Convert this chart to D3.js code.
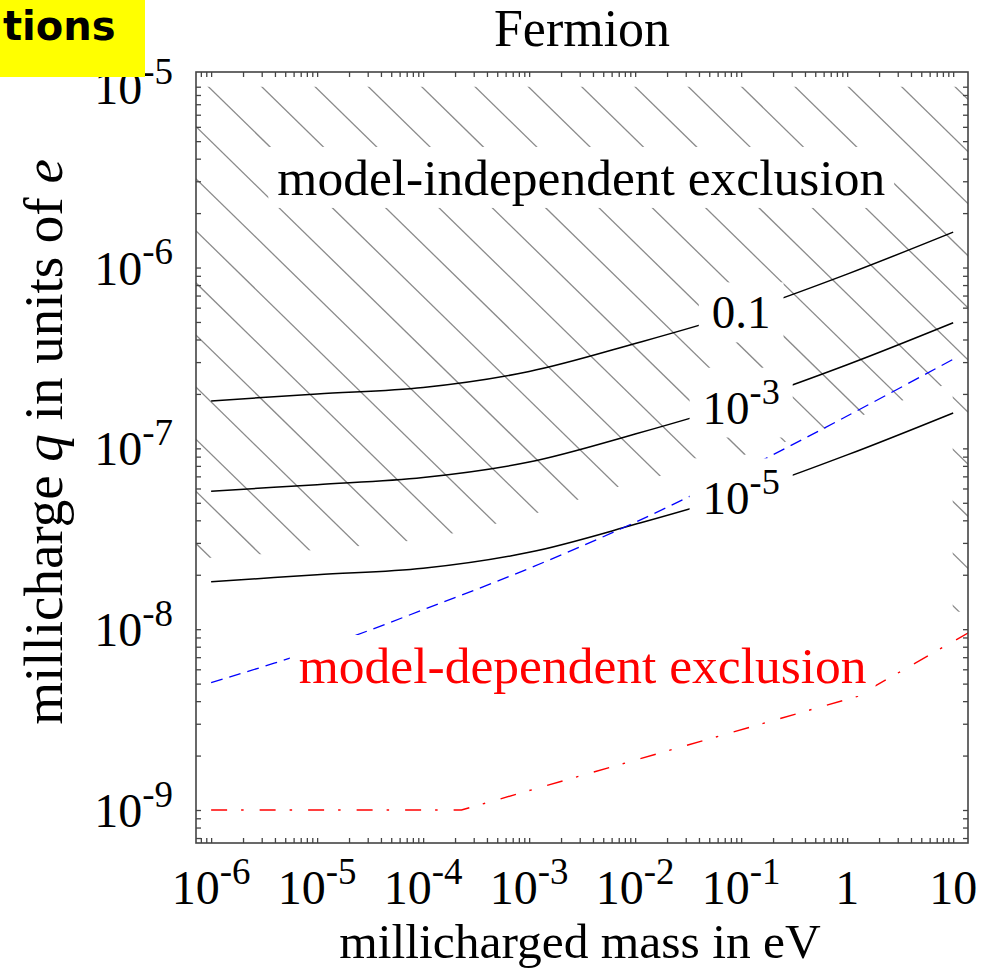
<!DOCTYPE html>
<html><head><meta charset="utf-8">
<script src="https://cdn.jsdelivr.net/npm/d3@7"></script>
<style>
body{margin:0;background:#fff;}
svg{display:block;}
</style></head><body>
<svg id="chart" width="996" height="975"></svg>
<script>
// ---- data (mass in eV, charge in units of e) ----
const massGrid  = [1e-6, 1e-5, 1e-4, 1e-3, 1e-2, 1e-1, 1, 10];
const qCurve01  = [1.83e-7, 2.0e-7, 2.17e-7, 2.66e-7, 3.8e-7, 5.65e-7, 9.2e-7, 1.57e-6];
const qCurve1e3 = [5.8e-8, 6.3e-8, 6.9e-8, 8.4e-8, 1.2e-7, 1.79e-7, 2.9e-7, 4.95e-7];
const qCurve1e5 = [1.83e-8, 2.0e-8, 2.17e-8, 2.66e-8, 3.8e-8, 5.65e-8, 9.2e-8, 1.57e-7];
const curveLabels = [["0.1", ""], ["10", "-3"], ["10", "-5"]];
const labelMass = 0.1;

// blue dashed bound
const blueMass = [1e-6, 1e-5, 1e-4, 1e-3, 1e-2, 1e-1, 1, 10];
const blueQ    = [5.06e-9, 7.75e-9, 1.28e-8, 2.17e-8, 3.9e-8, 7.5e-8, 1.51e-7, 3.11e-7];

// red dash-dot bound
const redMass = [1e-6, 2.3e-4, 1.23, 15];
const redQ    = [1e-9, 1e-9, 4.24e-9, 9.8e-9];

// hatched model-independent region: lower edge, top, and the strip beyond 10 eV
const hatchMass = [5e-7, 1e-6, 1e-5, 1e-4, 1e-3, 6.7e-3, 1e-1, 1, 10];
const hatchQ    = [2.4e-8, 2.48e-8, 2.75e-8, 3.16e-8, 4.27e-8, 6.1e-8, 9.1e-8, 1.42e-7, 2.34e-7];
const hatchTopQ = 1e-5;
const hatchStripMass = [10, 20];
const hatchStripQ = 1.25e-8;

// axis ticks and labels
const xTickValues = [1e-6, 1e-5, 1e-4, 1e-3, 1e-2, 1e-1, 1, 10];
const xTickLabels = [["10","-6"],["10","-5"],["10","-4"],["10","-3"],["10","-2"],["10","-1"],["1",""],["10",""]];
const yTickValues = [1e-9, 1e-8, 1e-7, 1e-6, 1e-5];
const yTickLabels = [["10","-9"],["10","-8"],["10","-7"],["10","-6"],["10","-5"]];

// plot range
const xDomain = [7.2e-7, 13.8];
const yDomain = [6.57e-10, 1.206e-5];

// region annotations: [mass, q, text, colour]
const regionLabels = [
  [3.1e-3, 3.15e-6, "model-independent exclusion", "#000"],
  [3.2e-3, 6.3e-9, "model-dependent exclusion", "#ff0000"]
];

// ---- layout ----
const L = 196, R = 968, T = 72, B = 843;
const serif = "'Liberation Serif', 'Times New Roman', serif";
const svg = d3.select("#chart");

const x = d3.scaleLog().domain(xDomain).range([L, R]);
const y = d3.scaleLog().domain(yDomain).range([B, T]);

const defs = svg.append("defs");
defs.append("clipPath").attr("id", "frameClip")
  .append("rect").attr("x", L).attr("y", T).attr("width", R - L).attr("height", B - T);

// hatch region = area between lower edge and top, plus strip beyond 10 eV
const hatchPts = hatchMass.map((m, i) => ({m, q: hatchQ[i]}));
const hatchArea = d3.area()
  .x(d => x(d.m)).y0(d => y(d.q)).y1(() => y(hatchTopQ))
  .curve(d3.curveCatmullRom.alpha(0.5));
const hc = defs.append("clipPath").attr("id", "hatchClip");
hc.append("path").attr("d", hatchArea(hatchPts));
hc.append("rect")
  .attr("x", x(hatchStripMass[0]) - 0.5)
  .attr("y", y(hatchTopQ))
  .attr("width", x(hatchStripMass[1]) - x(hatchStripMass[0]))
  .attr("height", y(hatchStripQ) - y(hatchTopQ));

// diagonal hatching lines
const hatchSlope = 0.977, hatchStep = 52.1, hatchOffset = -64.8;
const hatchG = svg.append("g").attr("clip-path", "url(#frameClip)")
  .append("g").attr("clip-path", "url(#hatchClip)");
const ks = d3.range(-16, 17);
hatchG.selectAll("line").data(ks).join("line")
  .attr("x1", L - 80).attr("x2", R + 80)
  .attr("y1", k => hatchSlope * (L - 80) + hatchOffset + k * hatchStep)
  .attr("y2", k => hatchSlope * (R + 80) + hatchOffset + k * hatchStep)
  .attr("stroke", "#8a8a8a").attr("stroke-width", 1.3);

// curves
const lineGen = d3.line().x(d => x(d.m)).y(d => y(d.q)).curve(d3.curveCatmullRom.alpha(0.5));
const plotG = svg.append("g").attr("clip-path", "url(#frameClip)");

const contours = [qCurve01, qCurve1e3, qCurve1e5];
contours.forEach(qs => {
  plotG.append("path")
    .attr("d", lineGen(massGrid.map((m, i) => ({m, q: qs[i]}))))
    .attr("fill", "none").attr("stroke", "#000").attr("stroke-width", 1.5);
});

plotG.append("path")
  .attr("d", lineGen(blueMass.map((m, i) => ({m, q: blueQ[i]}))))
  .attr("fill", "none").attr("stroke", "#0000ff").attr("stroke-width", 1.3)
  .attr("stroke-dasharray", "12,7");

plotG.append("path")
  .attr("d", d3.line().x(d => x(d.m)).y(d => y(d.q))(redMass.map((m, i) => ({m, q: redQ[i]}))))
  .attr("fill", "none").attr("stroke", "#ff0000").attr("stroke-width", 1.4)
  .attr("stroke-dasharray", "16,14,2.5,16");

// text helper: base + optional superscript
function supText(g, base, exp, size, color) {
  const t = g.append("text").attr("font-family", serif).attr("font-size", size)
    .attr("fill", color || "#000");
  t.append("tspan").text(base);
  if (exp) t.append("tspan").attr("font-size", size * 0.77).attr("dy", -size * 0.42).text(exp);
  return t;
}

// boxed label centred on a point
function boxedLabel(cx, cy, base, exp, size, color, padX, padY) {
  const g = svg.append("g");
  const rect = g.append("rect").attr("fill", "#fff");
  const t = supText(g, base, exp, size, color);
  const bb = t.node().getBBox();
  const dx = cx - (bb.x + bb.width / 2), dy = cy - (bb.y + bb.height / 2);
  t.attr("transform", `translate(${dx},${dy})`);
  rect.attr("x", bb.x + dx - padX).attr("y", bb.y + dy - padY)
      .attr("width", bb.width + 2 * padX).attr("height", bb.height + 2 * padY);
}

const li = massGrid.indexOf(labelMass);
contours.forEach((qs, i) => {
  boxedLabel(x(labelMass), y(qs[li]), curveLabels[i][0], curveLabels[i][1], 47, "#000", 13, 4);
});
regionLabels.forEach(([m, q, txt, col]) => {
  boxedLabel(x(m), y(q), txt, "", 51.5, col, 9, 2);
});

// axes: minor+major ticks inward on all four sides
const tickColor = "#444";
function styleAxis(g) {
  g.select(".domain").remove();
  g.selectAll(".tick line").attr("stroke", tickColor).attr("stroke-width", 1.3);
}
const blank = () => "";
svg.append("g").attr("transform", `translate(0,${B})`)
  .call(d3.axisBottom(x).tickSizeInner(-5).tickSizeOuter(0).tickFormat(blank)).call(styleAxis);
svg.append("g").attr("transform", `translate(0,${T})`)
  .call(d3.axisTop(x).tickSizeInner(-5).tickSizeOuter(0).tickFormat(blank)).call(styleAxis);
svg.append("g").attr("transform", `translate(${L},0)`)
  .call(d3.axisLeft(y).tickSizeInner(-5).tickSizeOuter(0).tickFormat(blank)).call(styleAxis);
svg.append("g").attr("transform", `translate(${R},0)`)
  .call(d3.axisRight(y).tickSizeInner(-5).tickSizeOuter(0).tickFormat(blank)).call(styleAxis);

svg.append("rect").attr("x", L).attr("y", T).attr("width", R - L).attr("height", B - T)
  .attr("fill", "none").attr("stroke", tickColor).attr("stroke-width", 1.6);

// tick labels
xTickValues.forEach((v, i) => {
  const t = supText(svg, xTickLabels[i][0], xTickLabels[i][1], 48);
  t.attr("y", 904).attr("x", x(v)).attr("text-anchor", "middle");
});
yTickValues.forEach((v, i) => {
  const t = supText(svg, yTickLabels[i][0], yTickLabels[i][1], 48);
  t.attr("y", y(v) + 17).attr("x", 173).attr("text-anchor", "end");
});

// titles
svg.append("text").attr("x", (L + R) / 2).attr("y", 46).attr("text-anchor", "middle")
  .attr("font-family", serif).attr("font-size", 52).text("Fermion");
svg.append("text").attr("x", 580).attr("y", 958).attr("text-anchor", "middle")
  .attr("font-family", serif).attr("font-size", 49.5).text("millicharged mass in eV");
const yt = svg.append("text").attr("transform", "translate(62,442) rotate(-90)")
  .attr("text-anchor", "middle").attr("font-family", serif).attr("font-size", 55);
yt.append("tspan").text("millicharge ");
yt.append("tspan").attr("font-style", "italic").text("q");
yt.append("tspan").text(" in units of ");
yt.append("tspan").attr("font-style", "italic").text("e");

// corner tag
svg.append("rect").attr("x", 0).attr("y", 0).attr("width", 145).attr("height", 77).attr("fill", "#ffff00");
svg.append("text").attr("x", 3).attr("y", 40).attr("text-anchor", "start")
  .attr("font-family", "'DejaVu Sans', sans-serif").attr("font-weight", "bold")
  .attr("font-size", 40).text("tions");
</script>
</body></html>
